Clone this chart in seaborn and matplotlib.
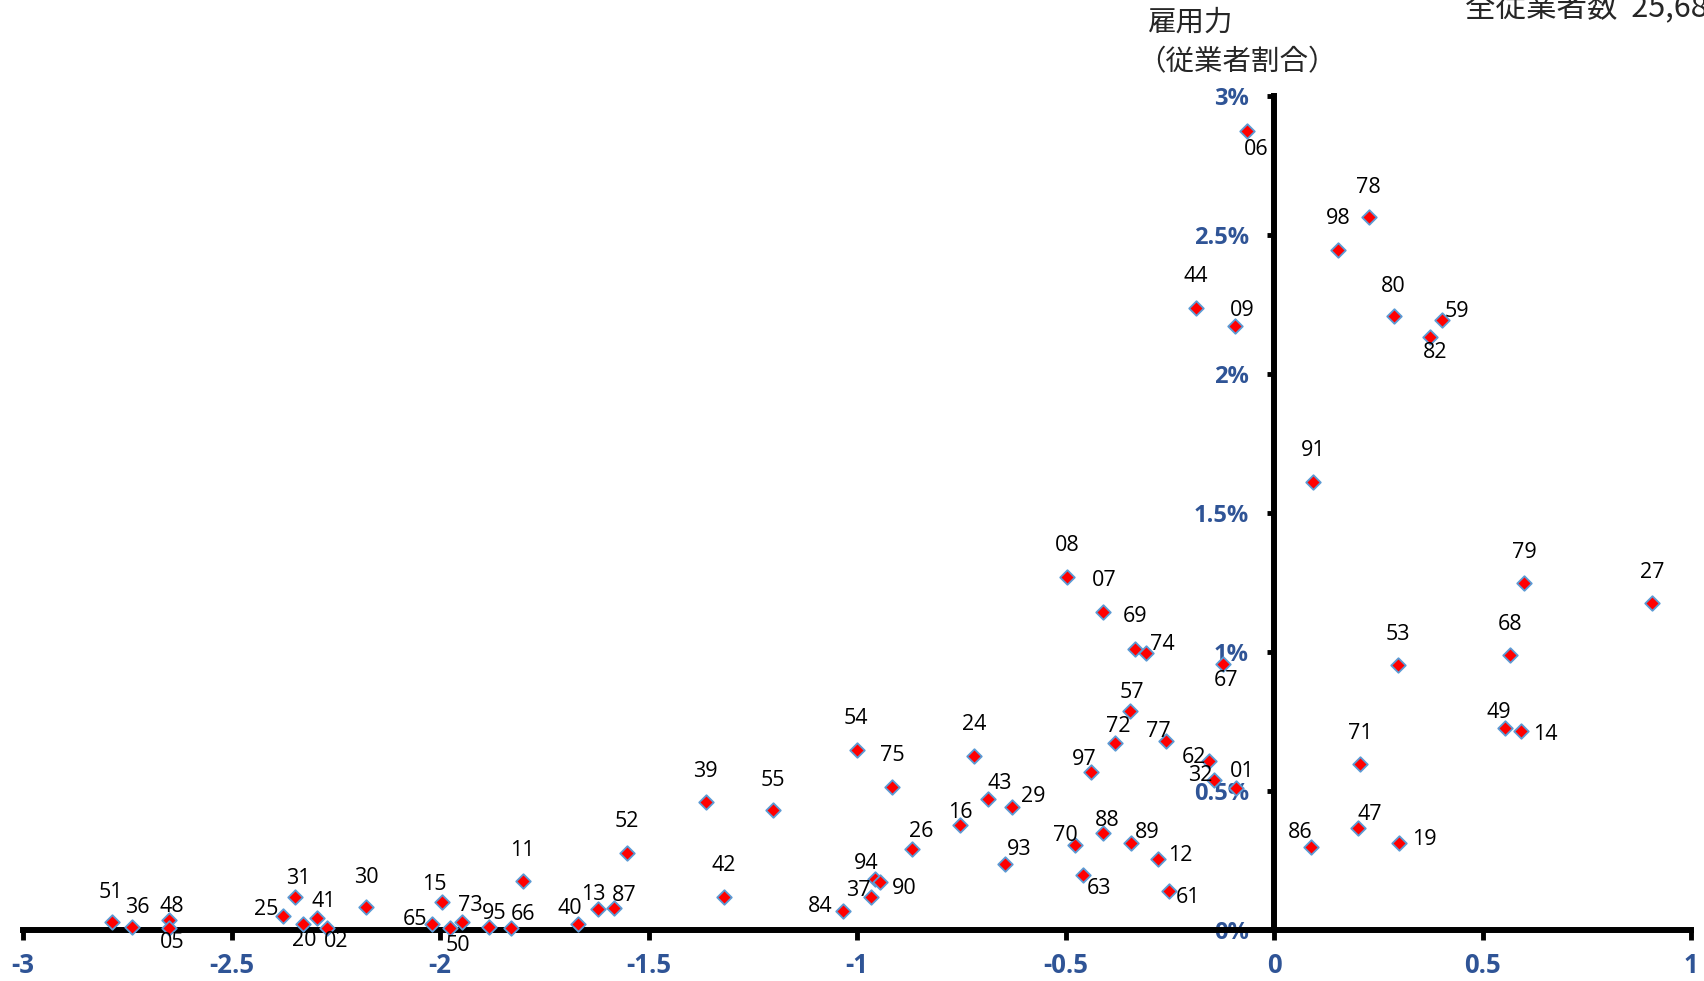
import numpy as np
import pandas as pd
import matplotlib
matplotlib.use("Agg")
import matplotlib.pyplot as plt
import seaborn as sns

# 産業コード / 稼ぐ力(x) / 雇用力(y, %)
codes = ['06', '78', '98', '44', '09', '80', '59', '82', '91', '08',
         '07', '79', '27', '69', '74', '67', '53', '68', '57', '72',
         '77', '49', '14', '54', '24', '97', '62', '32', '01', '71',
         '75', '39', '55', '43', '29', '16', '47', '26', '52', '70',
         '88', '89', '86', '19', '93', '12', '11', '94', '90', '63',
         '61', '42', '37', '84', '13', '87', '40', '30', '15', '73',
         '65', '50', '95', '66', '31', '25', '41', '20', '02', '51',
         '36', '48', '05']
kasegu = [-0.065, 0.227, 0.154, -0.188, -0.094, 0.287, 0.402, 0.373, 0.094, -0.496,
          -0.410, 0.600, 0.906, -0.334, -0.308, -0.123, 0.298, 0.567, -0.345, -0.381,
          -0.258, 0.554, 0.593, -1.000, -0.720, -0.439, -0.157, -0.144, -0.091, 0.206,
          -0.916, -1.363, -1.201, -0.687, -0.629, -0.752, 0.201, -0.869, -1.551, -0.478,
          -0.410, -0.342, 0.089, 0.300, -0.645, -0.277, -1.802, -0.958, -0.945, -0.457,
          -0.251, -1.319, -0.966, -1.034, -1.621, -1.582, -1.668, -2.177, -1.995, -1.948,
          -2.018, -1.976, -1.883, -1.830, -2.347, -2.376, -2.295, -2.329, -2.272, -2.786,
          -2.739, -2.650, -2.650]
koyou = [2.875, 2.563, 2.445, 2.238, 2.172, 2.207, 2.195, 2.133, 1.613, 1.270,
         1.145, 1.250, 1.176, 1.012, 0.996, 0.957, 0.953, 0.988, 0.789, 0.672,
         0.680, 0.727, 0.715, 0.648, 0.625, 0.570, 0.609, 0.539, 0.512, 0.598,
         0.516, 0.461, 0.430, 0.473, 0.441, 0.379, 0.367, 0.293, 0.277, 0.305,
         0.348, 0.313, 0.297, 0.313, 0.238, 0.254, 0.176, 0.184, 0.172, 0.199,
         0.141, 0.117, 0.117, 0.070, 0.074, 0.078, 0.020, 0.082, 0.100, 0.030,
         0.020, 0.008, 0.012, 0.008, 0.117, 0.050, 0.043, 0.023, 0.008, 0.027,
         0.012, 0.035, 0.008]

x_ticks = [-3, -2.5, -2, -1.5, -1, -0.5, 0, 0.5, 1]
x_tick_labels = ['-3', '-2.5', '-2', '-1.5', '-1', '-0.5', '0', '0.5', '1']
y_ticks = [0, 0.5, 1, 1.5, 2, 2.5, 3]
y_tick_labels = ['0%', '0.5%', '1%', '1.5%', '2%', '2.5%', '3%']

# ラベル位置 (画像px, 下向き正)
label_off = {
    '06': (9, 17), '78': (0, -28), '98': (0, -29), '44': (0, -29), '09': (7, -14),
    '80': (0, -28), '59': (14, -8), '82': (5, 14), '91': (0, -29), '08': (0, -29),
    '07': (1, -29), '79': (0, -28), '27': (0, -28), '69': (0, -30), '74': (15, -8),
    '67': (3, 15), '53': (0, -28), '68': (0, -28), '57': (2, -17), '72': (3, -15),
    '77': (-7, -9), '49': (-6, -14), '14': (22, 3), '54': (-1, -29), '24': (0, -29),
    '97': (-6, -11), '62': (-13, -3), '32': (-13, -4), '01': (6, -15), '71': (0, -28),
    '75': (0, -29), '39': (0, -28), '55': (0, -28), '43': (11, -14), '29': (20, -10),
    '16': (0, -11), '47': (11, -12), '26': (9, -16), '52': (0, -29), '70': (-9, -9),
    '88': (4, -12), '89': (15, -10), '86': (-10, -14), '19': (23, -3), '93': (13, -13),
    '12': (20, -4), '11': (0, -28), '94': (-8, -14), '90': (22, 6), '63': (14, 13),
    '61': (17, 6), '42': (0, -29), '37': (-12, -6), '84': (-21, -4), '13': (-4, -14),
    '87': (9, -12), '40': (-8, -15), '30': (0, -27), '15': (-7, -16), '73': (8, -15),
    '65': (-16, -5), '50': (7, 16), '95': (5, -12), '66': (11, -12), '31': (3, -17),
    '25': (-16, -6), '41': (6, -15), '20': (1, 16), '02': (9, 13), '51': (-1, -28),
    '36': (5, -18), '48': (3, -13), '05': (3, 14),
}
PX2PT = 1704 / 1568 * 72 / 100

df = pd.DataFrame({'code': codes, 'x': kasegu, 'y': koyou})

sns.set_theme(style='white')
plt.rcParams['font.family'] = ['Open Sans', 'Noto Sans CJK JP', 'DejaVu Sans']
blue = '#2F5496'

fig = plt.figure(figsize=(17.04, 9.81), dpi=100)
ax = fig.add_axes([23 / 1704, 1 - 930 / 981, (1691 - 23) / 1704, (930 - 96) / 981])

sns.scatterplot(data=df, x='x', y='y', marker='D', s=55, color='red',
                edgecolor='#5B9BD5', linewidth=1.3, ax=ax, zorder=5, clip_on=False)

for c, xv, yv in zip(codes, kasegu, koyou):
    dx, dy = label_off[c]
    ax.annotate(c, (xv, yv), xytext=(dx * PX2PT, -dy * PX2PT), textcoords='offset points',
                ha='center', va='center', fontsize=15.5, color='black', zorder=6,
                annotation_clip=False)

ax.set_xlim(-3, 1)
ax.set_ylim(0, 3)
ax.set_xlabel('')
ax.set_ylabel('')
for s in ['top', 'right']:
    ax.spines[s].set_visible(False)
ax.spines['left'].set_position(('data', 0))
ax.spines['bottom'].set_position(('data', 0))
for s in ['left', 'bottom']:
    ax.spines[s].set_linewidth(4.3)
    ax.spines[s].set_color('black')
    ax.spines[s].set_zorder(3)

ax.set_xticks(x_ticks)
ax.set_xticklabels(x_tick_labels, fontsize=18.5, fontweight='bold', color=blue)
ax.set_yticks(y_ticks)
ax.set_yticklabels(y_tick_labels, fontsize=17, fontweight='bold', color=blue)
ax.tick_params(axis='x', direction='out', length=7, width=3.5, pad=9, bottom=True, color='black')
ax.tick_params(axis='y', direction='out', length=5, width=3.5, pad=13, left=True, color='black')
ax.grid(False)

# 軸ラベル・注記
fig.text(1148 / 1704, 1 - 23 / 981, '雇用力', fontsize=20.5, ha='left', va='center',
         family=['Noto Sans CJK JP'])
fig.text(1137 / 1704, 1 - 62 / 981, '（従業者割合）', fontsize=20.5, ha='left', va='center',
         family=['Noto Sans CJK JP'])
fig.text(1465 / 1704, 1 - 7 / 981, '全従業者数  25,680人', fontsize=22, ha='left', va='center',
         family=['Noto Sans CJK JP'])

fig.savefig('out.png', dpi=100)
